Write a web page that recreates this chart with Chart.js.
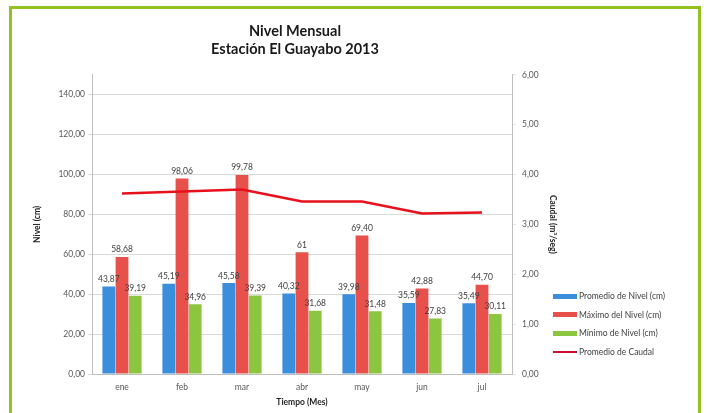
<!DOCTYPE html>
<html>
<head>
<meta charset="utf-8">
<script src="https://cdn.jsdelivr.net/npm/chart.js@4"></script>
<style>
  html, body { margin: 0; padding: 0; background: #ffffff; }
  .wrap { position: relative; width: 707px; height: 413px; overflow: hidden; }
  #myChart { position: absolute; left: 0; top: 0; }
  .frame { position: absolute; left: 9px; top: 6px; width: 692px; height: 430px; box-sizing: border-box; border: 3px solid #93C11F; pointer-events: none; }
  .legend { position: absolute; left: 553px; top: 287px; font: 8.5px Lato, sans-serif; color: #404040; }
  .legend div { height: 18.5px; display: flex; align-items: center; white-space: nowrap; }
  .legend span.mark { display: inline-block; width: 24px; margin-right: 2px; }
</style>
</head>
<body>
<div class="wrap">
  <canvas id="myChart" width="707" height="413"></canvas>
  <div class="frame"></div>
  <div class="legend"></div>
</div>
<script>
const ctx = document.getElementById('myChart')
const legendElem = document.querySelector(".legend")

const months = ["ene", "feb", "mar", "abr", "may", "jun", "jul"]
const avgLevel = [43.87, 45.19, 45.58, 40.32, 39.98, 35.59, 35.49]
const maxLevel = [58.68, 98.06, 99.78, 61, 69.40, 42.88, 44.70]
const minLevel = [39.19, 34.96, 39.39, 31.68, 31.48, 27.83, 30.11]
const avgFlow = [3.62, 3.66, 3.70, 3.46, 3.46, 3.22, 3.24]
const levelTicks = [0, 20, 40, 60, 80, 100, 120, 140]
const flowTicks = [0, 1, 2, 3, 4, 5, 6]

const fontName = 'Lato, "DejaVu Sans", sans-serif'
const fmt = v => Number.isInteger(v) ? String(v) : v.toFixed(2).replace('.', ',')

const barLabels = {
    id: 'barLabels',
    afterDatasetsDraw(chart) {
        const c = chart.ctx
        c.save()
        c.font = '8.5px ' + fontName
        c.fillStyle = '#404040'
        c.textAlign = 'center'
        c.textBaseline = 'bottom'
        chart.data.datasets.forEach((ds, i) => {
            if (ds.type === 'line') return
            chart.getDatasetMeta(i).data.forEach((el, j) => {
                c.fillText(fmt(ds.data[j]), el.x, el.y - 3)
            })
        })
        c.restore()
    }
}

const chart = new Chart(ctx, {
    data: {
        labels: months,
        datasets: [
            {
                type: 'line',
                label: 'Promedio de Caudal',
                data: avgFlow,
                yAxisID: 'y1',
                borderColor: '#E8101C',
                backgroundColor: '#C8102E',
                borderWidth: 2.5,
                pointRadius: 0,
                tension: 0,
                order: 0
            },
            {
                type: 'bar',
                label: 'Promedio de Nivel (cm)',
                data: avgLevel,
                yAxisID: 'y',
                backgroundColor: '#3A8EDC',
                order: 1
            },
            {
                type: 'bar',
                label: 'Máximo del Nivel (cm)',
                data: maxLevel,
                yAxisID: 'y',
                backgroundColor: '#E8514B',
                order: 1
            },
            {
                type: 'bar',
                label: 'Mínimo de Nivel (cm)',
                data: minLevel,
                yAxisID: 'y',
                backgroundColor: '#8CC540',
                order: 1
            }
        ]
    },
    options: {
        responsive: false,
        animation: false,
        datasets: {
            bar: { categoryPercentage: 0.66, barPercentage: 0.97 }
        },
        layout: { padding: { left: 28, right: 145, top: 0, bottom: 2 } },
        plugins: {
            legend: { display: false },
            tooltip: { enabled: false },
            title: {
                display: true,
                text: ['Nivel Mensual', 'Estación El Guayabo 2013'],
                color: '#1a1a1a',
                font: { family: fontName, size: 14.5, weight: 'bold', lineHeight: 1.2 },
                padding: { top: 23, bottom: 17 }
            }
        },
        scales: {
            x: {
                grid: { display: false, drawTicks: false },
                border: { color: '#bfbfbf' },
                ticks: { color: '#595959', font: { family: fontName, size: 8.5 }, padding: 8 },
                title: { display: true, text: 'Tiempo (Mes)', color: '#262626', font: { family: fontName, size: 8.5, weight: 'bold' }, padding: { top: 3 } },
                afterFit: s => { s.height = 37 }
            },
            y: {
                position: 'left',
                min: 0,
                max: 150,
                afterBuildTicks: s => { s.ticks = levelTicks.map(v => ({ value: v })) },
                grid: { color: '#d9d9d9', tickLength: 4 },
                border: { color: '#bfbfbf' },
                ticks: { color: '#595959', font: { family: fontName, size: 8.5 }, callback: v => fmt(v).includes(',') ? fmt(v) : v + ',00' },
                title: { display: true, text: 'Nivel (cm)', color: '#262626', font: { family: fontName, size: 8.5, weight: 'bold' } },
                afterFit: s => { s.width = 64 }
            },
            y1: {
                position: 'right',
                min: 0,
                max: 6,
                afterBuildTicks: s => { s.ticks = flowTicks.map(v => ({ value: v })) },
                grid: { drawOnChartArea: false, tickLength: 4 },
                border: { color: '#bfbfbf' },
                ticks: { color: '#595959', font: { family: fontName, size: 8.5 }, padding: 6, callback: v => v + ',00' },
                title: { display: true, text: 'Caudal (m³/seg)', color: '#262626', font: { family: fontName, size: 8.5, weight: 'bold' } },
                afterFit: s => { s.width = 50 }
            }
        }
    },
    plugins: [barLabels]
})

// legend order as in the picture: bars first, then the line
const legendOrder = [1, 2, 3, 0]
for (let i of legendOrder) {
    const ds = chart.data.datasets[i]
    const row = document.createElement("div")
    const mark = document.createElement("span")
    mark.className = "mark"
    mark.style.height = ds.type === 'line' ? '2px' : '5px'
    mark.style.background = ds.backgroundColor
    row.append(mark, ds.label)
    legendElem.append(row)
}
</script>
</body>
</html>
